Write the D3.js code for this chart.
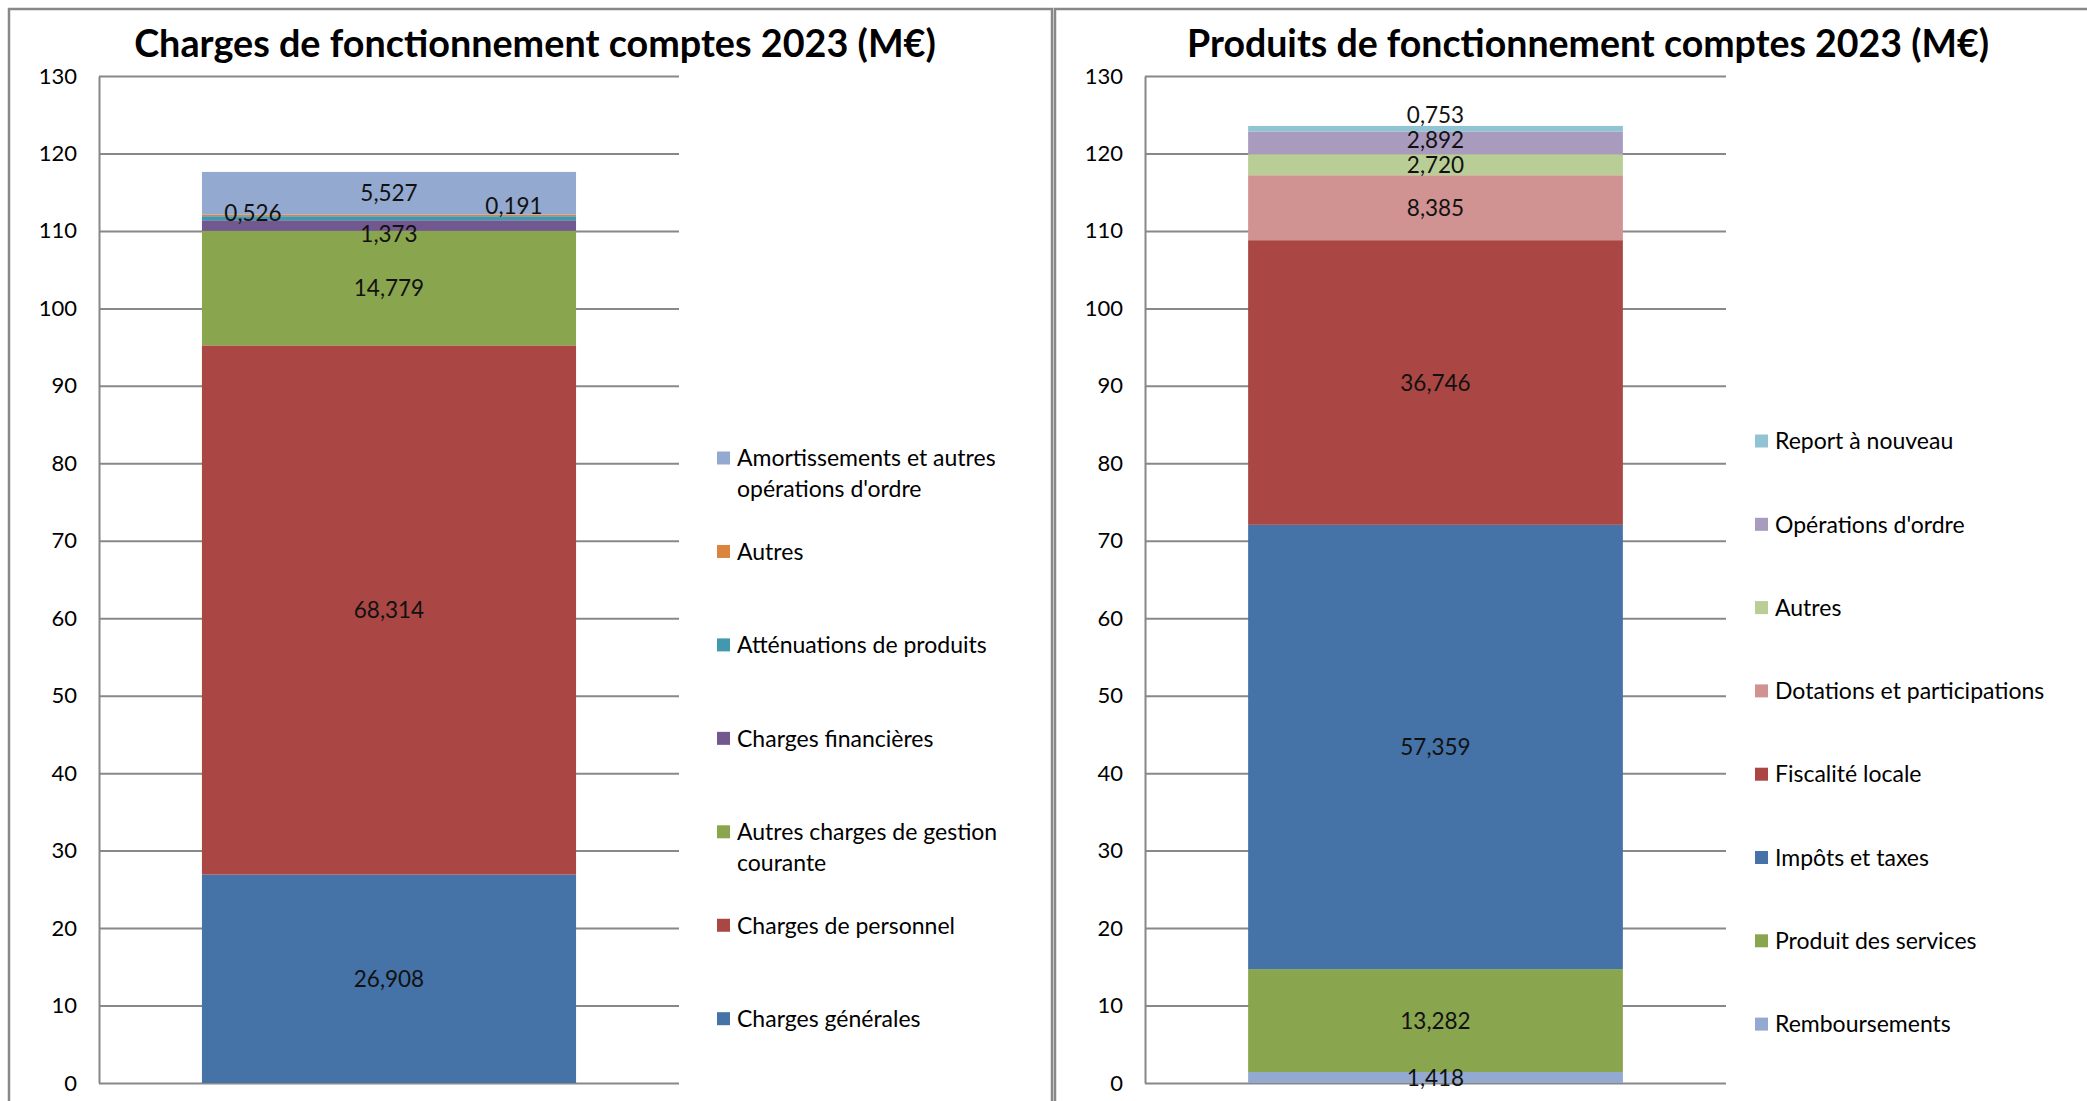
<!DOCTYPE html>
<html>
<head>
<meta charset="utf-8">
<script src="https://cdn.jsdelivr.net/npm/d3@7"></script>
<style>
  body { margin: 0; background: #fff; }
  svg { display: block; font-family: Lato, "Open Sans", sans-serif; }
</style>
</head>
<body>
<svg id="chart" width="2087" height="1101"></svg>
<script>
// --- data (stack order: bottom -> top) ---
var chargesTitle = "Charges de fonctionnement comptes 2023 (M€)";
var chargesCats = ["Charges générales", "Charges de personnel", "Autres charges de gestion courante",
  "Charges financières", "Atténuations de produits", "Autres", "Amortissements et autres opérations d'ordre"];
var chargesVals = [26.908, 68.314, 14.779, 1.373, 0.526, 0.191, 5.527];
var chargesColors = ["#4572A7", "#AA4643", "#89A54E", "#71588F", "#4198AF", "#DB843D", "#93A9CF"];

var produitsTitle = "Produits de fonctionnement comptes 2023 (M€)";
var produitsCats = ["Remboursements", "Produit des services", "Impôts et taxes", "Fiscalité locale",
  "Dotations et participations", "Autres", "Opérations d'ordre", "Report à nouveau"];
var produitsVals = [1.418, 13.282, 57.359, 36.746, 8.385, 2.720, 2.892, 0.753];
var produitsColors = ["#93A9CF", "#89A54E", "#4572A7", "#AA4643", "#D19392", "#B9CD96", "#A99BBD", "#92C3D5"];

var yTicks = [0, 10, 20, 30, 40, 50, 60, 70, 80, 90, 100, 110, 120, 130];
var yMax = 130;

var frFormat = d3.formatLocale({decimal: ",", thousands: " ", grouping: [3], currency: ["", " €"]}).format(".3f");

var svg = d3.select("#chart");
var gridColor = "#888888";

// layout of the two panels; label nudges mimic the hand-moved labels of the original
var panels = [
  {
    title: chargesTitle, cats: chargesCats, vals: chargesVals, colors: chargesColors,
    box: [9, 9, 1052, 1140], titleX: 535,
    plot: {x0: 99, x1: 679, y0: 1083, y1: 76},
    legend: {x: 717, top: 458, step: 93.45, wrap: 300},
    nudge: {3: [0, 8], 4: [-136, -5], 5: [125, -10]}
  },
  {
    title: produitsTitle, cats: produitsCats, vals: produitsVals, colors: produitsColors,
    box: [1055, 9, 2120, 1140], titleX: 1588,
    plot: {x0: 1145, x1: 1726, y0: 1083, y1: 76},
    legend: {x: 1755, top: 441, step: 83.3, wrap: 320},
    nudge: {6: [0, -3], 7: [0, -14]}
  }
];

panels.forEach(drawPanel);

function drawPanel(p) {
  var g = svg.append("g");

  // panel frame (bottom/right run past the picture edge)
  g.append("rect")
    .attr("x", p.box[0]).attr("y", p.box[1])
    .attr("width", p.box[2] - p.box[0]).attr("height", p.box[3] - p.box[1])
    .attr("fill", "none").attr("stroke", gridColor).attr("stroke-width", 2.5);

  // title, fitted to the width of the original
  var title = g.append("text")
    .attr("x", p.titleX).attr("y", 57)
    .attr("text-anchor", "middle")
    .attr("font-weight", "bold")
    .attr("font-size", 34)
    .attr("fill", "#000")
    .text(p.title);
  var tw = title.node().getComputedTextLength();
  title.attr("font-size", 34 * 802 / tw);

  var y = d3.scaleLinear().domain([0, yMax]).range([p.plot.y0, p.plot.y1]);
  var x = d3.scaleBand().domain(["2023"]).range([p.plot.x0, p.plot.x1])
    .paddingInner(0.355).paddingOuter(0.1775);

  var axis = d3.axisLeft(y)
    .tickValues(yTicks)
    .tickSizeInner(-(p.plot.x1 - p.plot.x0))
    .tickSizeOuter(0)
    .tickPadding(22)
    .tickFormat(d3.format("d"));

  var ax = g.append("g")
    .attr("transform", "translate(" + p.plot.x0 + ",0)")
    .call(axis);
  ax.select(".domain").attr("stroke", gridColor).attr("stroke-width", 2);
  ax.selectAll(".tick line").attr("stroke", gridColor).attr("stroke-width", 2);
  ax.selectAll(".tick text")
    .attr("font-family", "Lato, 'Open Sans', sans-serif")
    .attr("font-size", 22)
    .attr("fill", "#000");

  // stacked bar
  var row = {year: "2023"};
  p.cats.forEach(function(c, i) { row[c] = p.vals[i]; });
  var series = d3.stack().keys(p.cats)([row]);

  var bars = g.append("g");
  series.forEach(function(s, i) {
    bars.append("rect")
      .attr("x", x("2023"))
      .attr("width", x.bandwidth())
      .attr("y", y(s[0][1]))
      .attr("height", y(s[0][0]) - y(s[0][1]))
      .attr("fill", p.colors[i]);
  });

  // value labels
  series.forEach(function(s, i) {
    var n = p.nudge[i] || [0, 0];
    g.append("text")
      .attr("x", x("2023") + x.bandwidth() / 2 + n[0])
      .attr("y", y((s[0][0] + s[0][1]) / 2) + n[1])
      .attr("dy", "0.36em")
      .attr("text-anchor", "middle")
      .attr("font-size", 22.5)
      .attr("fill", "#111")
      .text(frFormat(p.vals[i]));
  });

  // legend, top item = last series
  var leg = g.append("g");
  var order = p.cats.slice().reverse();
  order.forEach(function(c, k) {
    var idx = p.cats.indexOf(c);
    var cy = p.legend.top + k * p.legend.step;
    leg.append("rect")
      .attr("x", p.legend.x).attr("y", cy - 6.5)
      .attr("width", 13).attr("height", 13)
      .attr("fill", p.colors[idx]);
    var t = leg.append("text")
      .attr("x", p.legend.x + 20).attr("y", cy)
      .attr("dy", "0.36em")
      .attr("font-size", 23)
      .attr("fill", "#000");
    wrapText(t, c, p.legend.wrap, p.legend.x + 20, 31);
  });
}

function wrapText(t, str, maxW, x0, lh) {
  var words = str.split(" "), line = [];
  var span = t.append("tspan").attr("x", x0);
  words.forEach(function(w) {
    line.push(w);
    span.text(line.join(" "));
    if (span.node().getComputedTextLength() > maxW && line.length > 1) {
      line.pop();
      span.text(line.join(" "));
      line = [w];
      span = t.append("tspan").attr("x", x0).attr("dy", lh).text(w);
    }
  });
}
</script>
</body>
</html>
